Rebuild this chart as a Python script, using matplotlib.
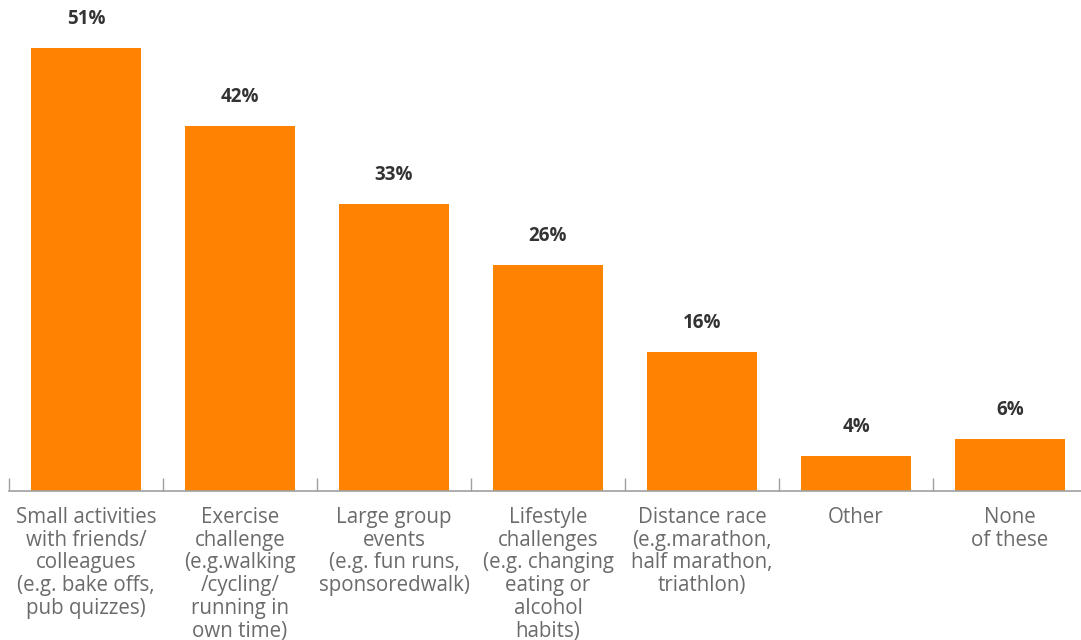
import matplotlib
matplotlib.use("Agg")
import matplotlib.pyplot as plt
import numpy as np

categories = [
    "Small activities\nwith friends/\ncolleagues\n(e.g. bake offs,\npub quizzes)",
    "Exercise\nchallenge\n(e.g.walking\n/cycling/\nrunning in\nown time)",
    "Large group\nevents\n(e.g. fun runs,\nsponsoredwalk)",
    "Lifestyle\nchallenges\n(e.g. changing\neating or\nalcohol\nhabits)",
    "Distance race\n(e.g.marathon,\nhalf marathon,\ntriathlon)",
    "Other",
    "None\nof these",
]
values = [51, 42, 33, 26, 16, 4, 6]

plt.rcParams["font.family"] = ["Open Sans", "DejaVu Sans"]

W, H = 1081, 640
fig = plt.figure(figsize=(W / 100, H / 100), dpi=100)
ax = fig.add_axes([9 / W, 149 / H, 1078 / W, 56 * 8.69 / H])

x = np.arange(len(values))
ax.bar(x, values, width=0.714, color="#FF8200", zorder=2)

for xi, v in zip(x, values):
    ax.annotate(f"{v}%", (xi, v), xytext=(0, 21), textcoords="offset points",
                ha="center", va="center", fontsize=13.5, fontweight="bold",
                color="#333333")

ax.set_xlim(-0.5, len(values) - 0.5)
ax.set_ylim(0, 56)

for s in ["top", "right", "left"]:
    ax.spines[s].set_visible(False)
ax.spines["bottom"].set_color("#a0a0a0")
ax.spines["bottom"].set_linewidth(1.2)
ax.set_yticks([])

ax.set_xticks(x)
ax.set_xticklabels(categories, fontsize=14.8, color="#6b6b6b", linespacing=1.11)
ax.tick_params(axis="x", which="major", length=0, pad=11.5)
ax.set_xticks(np.arange(-0.5, len(values), 1.0), minor=True)
ax.tick_params(axis="x", which="minor", direction="in", length=9.5,
               color="#a0a0a0", width=1.0)

fig.savefig("out.png", dpi=100)
